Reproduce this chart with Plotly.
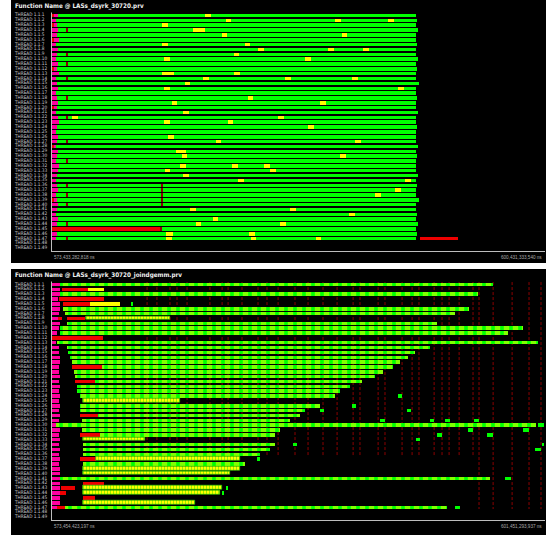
import plotly.graph_objects as go

W, H = 551, 535

# ---------------- shared ----------------
THREAD_LABELS = [f"THREAD 1.1.{i}" for i in range(1, 50)]
ROW_IDS = list(range(1, 50))

C_INIT = "#ff00a0"      # initialisation / outside functions
C_RED = "#ee0000"       # dsyrk kernel
C_GREEN = "#00ff00"     # dgemm
C_YELLOW = "#ffff00"    # dtrsm / helper
C_MARK = "#8b0000"      # short events
C_LINE = "#bdbdbd"

# ---------------- panel 1: LASs_dsyrk_30720.prv (times in s from window start) ----------------
TOP_TITLE = "Function Name @ LASs_dsyrk_30720.prv"
TOP_START_LABEL = "573,433,282,818 ns"
TOP_END_LABEL = "600,431,333,540 ns"
TOP_SPAN_S = 26.998

TOP_INIT_END = [0.33, 0.22, 0.27, 0.33, 0.27, 0.38, 0.22, 0.33, 0.27, 0.22, 0.33, 0.27, 0.38, 0.22,
                0.27, 0.33, 0.22, 0.27, 0.33, 0.27, 0.22, 0.33, 0.38, 0.27, 0.22, 0.33, 0.27, 0.22,
                0.33, 0.27, 0.22, 0.38, 0.33, 0.27, 0.22, 0.27, 0.33, 0.22, 0.27, 0.33, 0.27, 0.22,
                0.33, 0.27, 0.00, 0.27, 0.22]
TOP_RUN_START = [0.33, 0.22, 0.27, 0.33, 0.27, 0.38, 0.22, 0.33, 0.27, 0.22, 0.33, 0.27, 0.38, 0.22,
                 0.27, 0.33, 0.22, 0.27, 0.33, 0.27, 0.22, 0.33, 0.38, 0.27, 0.22, 0.33, 0.27, 0.22,
                 0.33, 0.27, 0.22, 0.38, 0.33, 0.27, 0.22, 0.27, 0.33, 0.22, 0.27, 0.33, 0.27, 0.22,
                 0.33, 0.27, 5.97, 0.27, 0.22]
TOP_RUN_END = [19.94, 19.99, 19.94, 20.05, 19.94, 19.94, 19.99, 19.94, 19.94, 20.05, 19.94, 19.99,
               19.94, 19.94, 20.10, 19.94, 19.94, 19.99, 19.94, 19.94, 20.05, 19.94, 19.94, 19.99,
               19.94, 19.94, 19.94, 20.05, 19.94, 19.99, 19.94, 19.94, 19.94, 20.05, 19.94, 19.99,
               19.94, 19.94, 20.10, 19.94, 19.94, 19.99, 19.94, 20.05, 19.94, 19.99, 19.94]

TOP_RED = [(45, 0.00, 5.92), (47, 20.16, 22.24),
           (1, 0.00, 0.08), (3, 0.00, 0.08), (6, 0.00, 0.10), (12, 0.00, 0.08),
           (20, 0.00, 0.10), (28, 0.00, 0.08), (39, 0.00, 0.10)]

TOP_YELLOW = [
    (1, 8.38, 8.71),
    (2, 9.53, 9.80), (2, 15.50, 15.83), (2, 18.40, 18.73),
    (3, 6.02, 6.35),
    (4, 7.72, 8.38),
    (5, 9.31, 9.58), (5, 15.88, 16.16),
    (7, 6.02, 6.35), (7, 10.57, 10.84),
    (8, 11.28, 11.61), (8, 15.12, 15.45), (8, 17.03, 17.36),
    (9, 9.97, 10.24),
    (10, 6.13, 6.46), (10, 13.86, 14.19),
    (13, 6.02, 6.68), (13, 9.97, 10.30),
    (14, 8.27, 8.60), (14, 12.76, 13.09), (14, 16.43, 16.76),
    (15, 7.28, 7.56),
    (16, 6.13, 6.46), (16, 18.95, 19.28),
    (18, 10.73, 11.01),
    (19, 6.57, 6.85), (19, 14.68, 15.01),
    (21, 7.17, 7.50),
    (22, 1.10, 1.42), (22, 12.38, 12.71),
    (23, 6.13, 6.46), (23, 9.64, 9.91),
    (24, 14.02, 14.35),
    (26, 6.35, 6.68),
    (27, 8.98, 9.26), (27, 16.60, 16.92),
    (29, 6.79, 7.34),
    (30, 7.12, 7.39), (30, 15.77, 16.10),
    (32, 7.01, 7.34), (32, 9.86, 10.19), (32, 11.61, 11.94),
    (33, 6.19, 6.46), (33, 11.94, 12.27),
    (34, 7.17, 7.50),
    (35, 10.19, 10.52), (35, 19.33, 19.66),
    (37, 18.79, 19.11),
    (38, 17.69, 18.02),
    (41, 7.56, 7.89), (41, 13.04, 13.36),
    (42, 16.27, 16.60),
    (43, 8.82, 9.09),
    (44, 7.89, 8.16), (44, 12.49, 12.82),
    (46, 6.24, 6.63), (46, 10.79, 11.12),
    (47, 6.24, 6.57), (47, 10.90, 11.17), (47, 14.46, 14.73),
]

TOP_MARKS = [(4, 0.82), (9, 0.82), (11, 0.82), (14, 0.82), (18, 0.82), (22, 0.82), (27, 0.82),
             (31, 0.82), (36, 0.82), (38, 0.82), (40, 0.82), (44, 0.82), (47, 0.82),
             (36, 5.97), (37, 5.97), (38, 5.97), (39, 5.97), (40, 5.97), (45, 5.92)]

# ---------------- panel 2: LASs_dsyrk_30720_joindgemm.prv ----------------
BOT_TITLE = "Function Name @ LASs_dsyrk_30720_joindgemm.prv"
BOT_START_LABEL = "573,454,423,197 ns"
BOT_END_LABEL = "601,451,293,937 ns"
BOT_SPAN_S = 27.997

BOT_INIT_END = [0.45, 0.45, 0.45, 0.34, 0.45, 0.45, 0.40, 0.34, 0.45, 0.40, 0.28, 0.00, 0.23, 0.40,
                0.40, 0.45, 0.45, 0.40, 0.40, 0.45, 0.40, 0.45, 0.40, 0.45, 0.40, 0.45, 0.40, 0.45,
                0.40, 0.23, 0.45, 0.40, 0.45, 0.40, 0.45, 0.40, 0.45, 0.40, 0.45, 0.45, 0.45, 0.45,
                0.45, 0.45, 0.45, 0.45, 0.28]

BOT_RED = [(2, 0.57, 2.04), (4, 0.40, 2.95), (5, 0.62, 2.16), (8, 0.34, 0.57), (8, 0.85, 1.87),
           (12, 0.00, 2.90), (18, 1.14, 2.84), (21, 1.31, 2.44), (28, 1.59, 2.61),
           (32, 1.59, 2.73), (37, 1.59, 2.50), (42, 1.76, 2.95), (43, 0.51, 1.31),
           (44, 0.45, 0.80), (45, 1.76, 2.44), (47, 0.28, 0.74)]

BOT_YELLOW = [(2, 2.04, 2.95), (5, 2.16, 3.86)]

# alternating dgemm / dtrsm calls (coarse interleaving)
BOT_STRIPED = [(1, 0.45, 25.05), (3, 0.45, 24.20), (6, 0.62, 23.68), (7, 0.74, 22.89),
               (9, 0.85, 21.87), (10, 0.45, 26.75), (11, 0.45, 25.90), (13, 0.28, 27.60),
               (14, 0.85, 21.47), (15, 0.91, 20.62), (16, 1.02, 20.22), (17, 1.14, 19.77),
               (18, 2.84, 19.37), (19, 1.25, 18.80), (20, 1.31, 18.35), (21, 2.44, 17.61),
               (22, 1.42, 16.93), (23, 1.42, 16.36), (24, 1.59, 16.07), (26, 1.59, 15.22),
               (27, 1.59, 14.37), (28, 2.61, 14.09), (29, 1.70, 13.52), (30, 0.23, 27.49),
               (31, 1.70, 12.95), (32, 2.73, 12.67), (34, 1.76, 12.67), (35, 1.76, 12.38),
               (36, 1.76, 11.81), (38, 1.76, 10.96), (41, 0.45, 24.88), (47, 0.74, 22.44)]

# dense interleaving (short calls)
BOT_DENSE = [(8, 1.93, 6.70), (25, 1.76, 7.27), (33, 1.76, 5.28), (37, 2.50, 10.68),
             (39, 1.76, 10.68), (40, 1.76, 10.11), (43, 1.76, 9.66), (44, 1.76, 9.54),
             (46, 1.76, 8.12)]

BOT_GREEN = [(5, 4.49, 4.60), (24, 19.65, 19.88), (26, 17.04, 17.27), (27, 15.22, 15.45),
             (27, 20.16, 20.39), (29, 18.63, 18.91), (29, 21.47, 21.69), (29, 22.32, 22.61),
             (29, 23.97, 24.25), (30, 27.60, 27.94), (31, 23.63, 23.91), (31, 26.75, 27.09),
             (32, 21.87, 22.15), (32, 24.71, 25.05), (33, 20.67, 20.90), (34, 13.69, 13.92),
             (34, 27.83, 27.94), (35, 27.43, 27.77), (37, 11.64, 11.81), (41, 25.73, 26.07),
             (43, 9.88, 10.00), (44, 9.66, 9.77), (47, 22.89, 23.17)]

# synchronisation events (dashed columns)
BOT_SYNC = [5.40, 5.96, 6.70, 7.10, 7.67, 8.97, 9.66, 10.00, 10.79, 11.70, 12.21, 12.84, 13.80,
            14.54, 15.39, 16.19, 17.10, 17.49, 18.52, 18.91, 19.88, 20.45, 20.84, 21.70, 22.15,
            22.55, 23.12, 23.91, 24.25, 25.05, 26.13, 27.09, 27.77]
BOT_SYNC_LAST_ROW = [36.5 if t < 24 else 47.4 for t in BOT_SYNC]

# ---------------- geometry (pixels) ----------------
PX_LEFT, PX_RIGHT = 52, 545
PANEL_X0, PANEL_X1 = 11, 546
TOP_PANEL = (0, 263)
BOT_PANEL = (269, 535)
TOP_ROWS_PX = (12.5, 251)
BOT_ROWS_PX = (281.5, 520)
ROW_RANGE = [49.66, 0.4845]


def fx(px):
    return px / W


def fy(px):
    return (H - px) / H


fig = go.Figure()


def add_bars(segs, xa, ya, marker, width=0.72):
    rows = [s[0] for s in segs]
    starts = [s[1] for s in segs]
    lens = [s[2] - s[1] for s in segs]
    fig.add_trace(go.Bar(orientation="h", y=rows, base=starts, x=lens, width=width,
                         marker=marker, xaxis=xa, yaxis=ya, hoverinfo="skip",
                         showlegend=False))


def solid(c):
    return dict(color=c, line=dict(width=0))


# panel 1 traces
top_run = [(r, s, e) for r, s, e in zip(ROW_IDS, TOP_RUN_START, TOP_RUN_END)]
top_init = [(r, 0.0, e) for r, e in zip(ROW_IDS, TOP_INIT_END) if e > 0]
add_bars(top_run, "x", "y", solid(C_GREEN))
add_bars(top_init, "x", "y", solid(C_INIT))
add_bars(TOP_RED, "x", "y", solid(C_RED))
add_bars(TOP_YELLOW, "x", "y", solid(C_YELLOW))
add_bars([(r, t, t + 0.06) for r, t in TOP_MARKS], "x", "y", solid(C_MARK))

# panel 2 traces
bot_init = [(r, 0.0, e) for r, e in zip(ROW_IDS, BOT_INIT_END) if e > 0]
add_bars(bot_init, "x2", "y2", solid(C_INIT))
add_bars(BOT_RED, "x2", "y2", solid(C_RED))
add_bars(BOT_YELLOW, "x2", "y2", solid(C_YELLOW))
add_bars(BOT_STRIPED, "x2", "y2",
         dict(color=C_GREEN, line=dict(width=0),
              pattern=dict(shape="|", fgcolor=C_YELLOW, bgcolor=C_GREEN, size=9, solidity=0.6)))
add_bars(BOT_DENSE, "x2", "y2",
         dict(color=C_YELLOW, line=dict(width=0.6, color="#22dd00"),
              pattern=dict(shape="|", fgcolor="#33dd00", bgcolor=C_YELLOW, size=3, solidity=0.35)))
add_bars(BOT_GREEN, "x2", "y2", solid(C_GREEN))

shapes = [
    dict(type="rect", xref="paper", yref="paper", x0=fx(PANEL_X0), x1=fx(PANEL_X1),
         y0=fy(TOP_PANEL[1]), y1=fy(TOP_PANEL[0]), fillcolor="black", line=dict(width=0),
         layer="below"),
    dict(type="rect", xref="paper", yref="paper", x0=fx(PANEL_X0), x1=fx(PANEL_X1),
         y0=fy(BOT_PANEL[1]), y1=fy(BOT_PANEL[0]), fillcolor="black", line=dict(width=0),
         layer="below"),
]
# axis frames
for (ytop, ybot) in (TOP_ROWS_PX, BOT_ROWS_PX):
    shapes.append(dict(type="line", xref="paper", yref="paper", x0=fx(51.5), x1=fx(51.5),
                       y0=fy(ybot + 0.5), y1=fy(ytop), line=dict(color=C_LINE, width=1)))
    shapes.append(dict(type="line", xref="paper", yref="paper", x0=fx(51), x1=fx(PX_RIGHT),
                       y0=fy(ybot + 0.5), y1=fy(ybot + 0.5), line=dict(color=C_LINE, width=1)))
# sync columns under the bars
for t, last in zip(BOT_SYNC, BOT_SYNC_LAST_ROW):
    shapes.append(dict(type="line", xref="x2", yref="y2", x0=t, x1=t, y0=0.6, y1=last,
                       line=dict(color=C_MARK, width=1, dash="3px,2px"), layer="below"))

NARROW = "Liberation Sans Narrow, DejaVu Sans Condensed, Liberation Sans, Arial, sans-serif"
annotations = []
LABEL_FONT = dict(family=NARROW, size=4.7, color="#c9c9d2")
for ya in ("y", "y2"):
    for r, lab in zip(ROW_IDS, THREAD_LABELS):
        annotations.append(dict(text=lab, xref="paper", yref=ya, x=fx(13), y=r,
                                xanchor="left", yanchor="middle", showarrow=False,
                                font=LABEL_FONT, borderpad=0))
TITLE_FONT = dict(family=NARROW, size=6.3, color="#f2f2f2", weight="bold")
annotations.append(dict(text=TOP_TITLE, xref="paper", yref="paper", x=fx(13), y=fy(6),
                        xanchor="left", yanchor="middle", showarrow=False, font=TITLE_FONT))
annotations.append(dict(text=BOT_TITLE, xref="paper", yref="paper", x=fx(13), y=fy(275),
                        xanchor="left", yanchor="middle", showarrow=False, font=TITLE_FONT))
TIME_FONT = dict(family="Liberation Sans, Arial, sans-serif", size=4.6, color="#a8a8a8")
for lab_l, lab_r, ypx in ((TOP_START_LABEL, TOP_END_LABEL, 257),
                          (BOT_START_LABEL, BOT_END_LABEL, 526)):
    annotations.append(dict(text=lab_l, xref="paper", yref="paper", x=fx(52), y=fy(ypx),
                            xanchor="left", yanchor="middle", showarrow=False, font=TIME_FONT))
    annotations.append(dict(text=lab_r, xref="paper", yref="paper", x=fx(544), y=fy(ypx),
                            xanchor="right", yanchor="middle", showarrow=False, font=TIME_FONT))

hidden = dict(visible=False, showgrid=False, zeroline=False, fixedrange=True)
fig.update_layout(
    width=W, height=H, autosize=False,
    margin=dict(l=0, r=0, t=0, b=0, pad=0),
    paper_bgcolor="white", plot_bgcolor="black",
    barmode="overlay", bargap=0,
    showlegend=False,
    xaxis=dict(domain=[fx(PX_LEFT), fx(PX_RIGHT)], range=[0, TOP_SPAN_S], anchor="y", **hidden),
    yaxis=dict(domain=[fy(TOP_ROWS_PX[1]), fy(TOP_ROWS_PX[0])], range=ROW_RANGE, anchor="x",
               **hidden),
    xaxis2=dict(domain=[fx(PX_LEFT), fx(PX_RIGHT)], range=[0, BOT_SPAN_S], anchor="y2",
                **hidden),
    yaxis2=dict(domain=[fy(BOT_ROWS_PX[1]), fy(BOT_ROWS_PX[0])], range=ROW_RANGE,
                anchor="x2", **hidden),
    shapes=shapes,
    annotations=annotations,
)

fig.write_html("out.html")
